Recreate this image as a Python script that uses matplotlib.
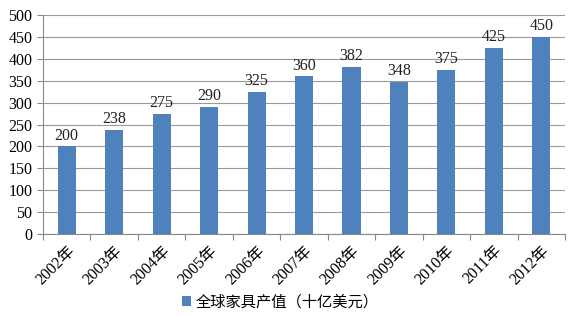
import matplotlib
matplotlib.use("Agg")
import matplotlib.pyplot as plt

# datos
years = ["2002年", "2003年", "2004年", "2005年", "2006年", "2007年",
         "2008年", "2009年", "2010年", "2011年", "2012年"]
values = [200, 238, 275, 290, 325, 360, 382, 348, 375, 425, 450]
series_name = "全球家具产值（十亿美元）"

serif = ["Liberation Serif", "Noto Sans CJK SC"]

fig = plt.figure(figsize=(5.72, 3.16), dpi=100)
ax = fig.add_axes([0.075, 0.259, 0.913, 0.694])

x = range(len(years))
bars = ax.bar(x, values, width=0.38, color="#4F81BD", label=series_name, zorder=3)

for xi, v in zip(x, values):
    ax.text(xi, v + 6, str(v), ha="center", va="bottom",
            fontsize=11.5, family=serif, color="#222222")

ax.set_xlim(-0.5, len(years) - 0.5)
ax.set_ylim(0, 500)
ax.set_yticks(range(0, 501, 50))
ax.yaxis.grid(True, color="#9a9a9a", linewidth=0.8, zorder=0)

# marcas entre categorias, etiquetas centradas
ax.set_xticks([i - 0.5 for i in range(len(years) + 1)], minor=False)
ax.set_xticklabels([""] * (len(years) + 1))
ax.set_xticks(list(x), minor=True)
ax.set_xticklabels(years, minor=True, rotation=45, ha="right",
                   rotation_mode="anchor", fontsize=11.5, family=serif)
ax.tick_params(axis="x", which="minor", length=0, pad=6)
ax.tick_params(axis="x", which="major", length=4, color="#888888")
ax.tick_params(axis="y", length=4, color="#888888", labelsize=11.5)
for lab in ax.get_yticklabels():
    lab.set_family(serif)

for s in ["top", "right"]:
    ax.spines[s].set_visible(False)
ax.spines["left"].set_color("#888888")
ax.spines["bottom"].set_color("#888888")

fig.legend(handles=[bars], labels=[series_name], loc="center",
           bbox_to_anchor=(0.49, 0.045), frameon=False,
           prop={"family": "Noto Sans CJK SC", "size": 11},
           handlelength=0.6, handleheight=0.6, handletextpad=0.3)

fig.savefig("out.png", dpi=100)
